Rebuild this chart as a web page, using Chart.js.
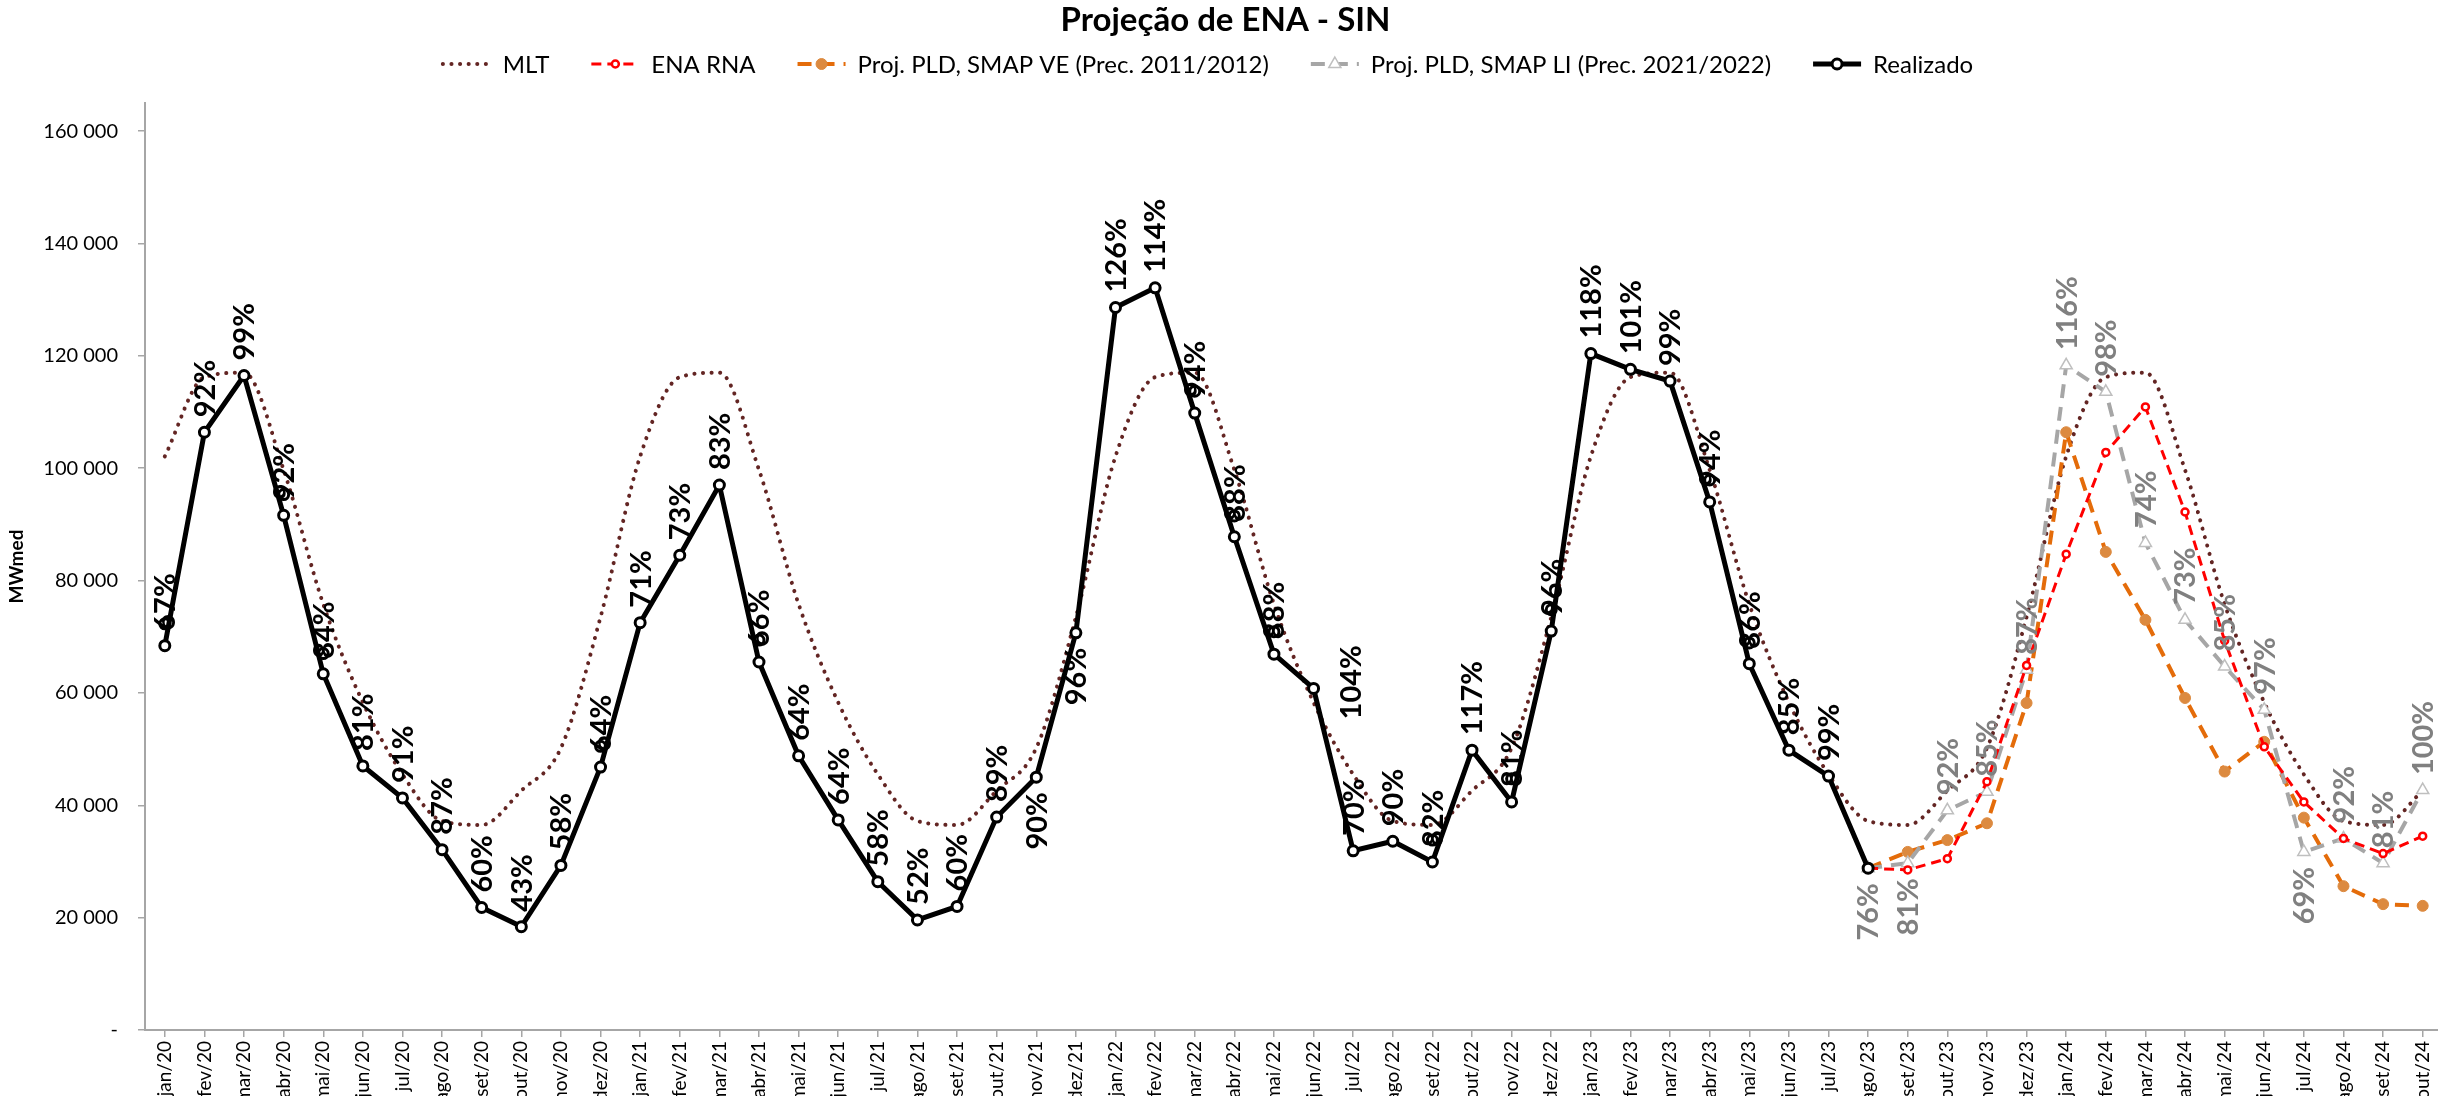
<!DOCTYPE html>
<html lang="pt-BR">
<head>
<meta charset="utf-8">
<title>Projeção de ENA - SIN</title>
<script src="https://cdn.jsdelivr.net/npm/chart.js@4.4.1/dist/chart.umd.min.js"></script>
<style>
    html, body { margin: 0; padding: 0; background: #fff; overflow: hidden; }
    #wrap { width: 2451px; height: 1096px; }
</style>
</head>
<body>
<div id="wrap"><canvas id="ena-chart" width="2451" height="1096"></canvas></div>
<script>
// meses do eixo x
var meses = ["jan/20", "fev/20", "mar/20", "abr/20", "mai/20", "jun/20", "jul/20", "ago/20", "set/20", "out/20", "nov/20", "dez/20",
    "jan/21", "fev/21", "mar/21", "abr/21", "mai/21", "jun/21", "jul/21", "ago/21", "set/21", "out/21", "nov/21", "dez/21",
    "jan/22", "fev/22", "mar/22", "abr/22", "mai/22", "jun/22", "jul/22", "ago/22", "set/22", "out/22", "nov/22", "dez/22",
    "jan/23", "fev/23", "mar/23", "abr/23", "mai/23", "jun/23", "jul/23", "ago/23", "set/23", "out/23", "nov/23", "dez/23",
    "jan/24", "fev/24", "mar/24", "abr/24", "mai/24", "jun/24", "jul/24", "ago/24", "set/24", "out/24"];

// eixo y (MWmed)
var ticksY = [0, 20000, 40000, 60000, 80000, 100000, 120000, 140000, 160000];

var mlt = [102100, 116200, 117000, 99700, 75800, 58300, 45500, 37200, 36500, 42600, 50200, 73500,
    102100, 116200, 117000, 99700, 75800, 58300, 45500, 37200, 36500, 42600, 50200, 73500,
    102100, 116200, 117000, 99700, 75800, 58300, 45500, 37200, 36500, 42600, 50200, 73500,
    102100, 116200, 117000, 99700, 75800, 58300, 45500, 37200, 36500, 42600, 50200, 73500,
    102100, 116200, 117000, 99700, 75800, 58300, 45500, 37200, 36500, 42600];

var realizado = [68400, 106400, 116500, 91600, 63400, 47000, 41300, 32100, 21800, 18400, 29300, 46800,
    72500, 84500, 97000, 65500, 48800, 37400, 26400, 19600, 22000, 37900, 45000, 70700,
    128600, 132100, 109800, 87800, 66900, 60800, 31900, 33600, 29900, 49800, 40600, 71000,
    120400, 117600, 115500, 94000, 65200, 49800, 45200, 28800,
    null, null, null, null, null, null, null, null, null, null, null, null, null, null];

// pontos duplicados do realizado (marcador extra no mesmo mes)
var realizadoExtra = [72300, null, null, 95300, 67000, null, null, null, null, null, null, 50500,
    null, null, null, 69400, null, null, null, null, null, null, null, null,
    null, null, 113700, 91500, 70900, null, null, null, 33800, null, 44700, 74800,
    null, null, null, 97900, 68900, null, null, null, null, null, null, null,
    null, null, null, null, null, null, null, null, null, null];

function aPartirDe(n, valores) {
    return new Array(n).fill(null).concat(valores);
}

var enaRna = aPartirDe(43, [28800, 28500, 30500, 44200, 64900, 84700, 102800, 110900, 92200, 69300, 50400, 40600, 34100, 31400, 34500]);
var smapVE = aPartirDe(43, [28800, 31700, 33800, 36800, 58200, 106400, 85100, 73000, 59100, 46000, 51300, 37800, 25600, 22400, 22100]);
var smapLI = aPartirDe(43, [28800, 29700, 39100, 42400, 64100, 118300, 113600, 86700, 73000, 64700, 57000, 31700, 34100, 29700, 42700]);

// % da MLT
var rotulosRealizado = ["67%", "92%", "99%", "92%", "84%", "81%", "91%", "87%", "60%", "43%", "58%", "64%",
    "71%", "73%", "83%", "66%", "64%", "64%", "58%", "52%", "60%", "89%", "90%", "96%",
    "126%", "114%", "94%", "88%", "88%", "104%", "70%", "90%", "82%", "117%", "81%", "96%",
    "118%", "101%", "99%", "94%", "86%", "85%", "99%"];
var rotulosLI = aPartirDe(43, ["76%", "81%", "92%", "85%", "87%", "116%", "98%", "74%", "73%", "85%", "97%", "69%", "92%", "81%", "100%"]);

Chart.defaults.font.family = "Lato, 'Liberation Sans', sans-serif";
Chart.defaults.color = "#000";

var rotulos = [
    { dataset: 4, textos: rotulosRealizado, cor: "#000", abaixo: [22, 23], desloca: { 29: [37, 46] } },
    { dataset: 3, textos: rotulosLI, cor: "#808080", abaixo: [43, 44, 54], desloca: {} }
];

var rotulosPlugin = {
    id: "rotulos",
    afterDatasetsDraw: function (chart) {
        var ctx = chart.ctx;
        ctx.save();
        ctx.font = "bold 29px Lato";
        ctx.textBaseline = "middle";
        rotulos.forEach(function (r) {
            var meta = chart.getDatasetMeta(r.dataset);
            r.textos.forEach(function (txt, i) {
                if (!txt) return;
                var p = meta.data[i];
                var d = r.desloca[i] || [0, 0];
                var abaixo = r.abaixo.indexOf(i) >= 0;
                ctx.save();
                ctx.translate(p.x + d[0], p.y + d[1]);
                ctx.rotate(-Math.PI / 2);
                ctx.fillStyle = r.cor;
                ctx.textAlign = abaixo ? "right" : "left";
                ctx.fillText(txt, abaixo ? -15 : 15, 1);
                ctx.restore();
            });
        });
        ctx.restore();
    }
};

// legenda no estilo do excel (linha + marcador)
var legendaPlugin = {
    id: "legendaExcel",
    afterDraw: function (chart) {
        var ctx = chart.ctx;
        var itens = [0, 1, 2, 3, 4];
        var amostra = 48, gapTexto = 12, gapItem = 42, y = 64;
        ctx.save();
        ctx.font = "24px Lato";
        var total = 0;
        itens.forEach(function (i, k) {
            total += amostra + gapTexto + ctx.measureText(chart.data.datasets[i].label).width + (k ? gapItem : 0);
        });
        var x = 1208 - total / 2;
        itens.forEach(function (i) {
            var ds = chart.data.datasets[i];
            ctx.save();
            ctx.strokeStyle = ds.borderColor;
            ctx.lineWidth = ds.borderWidth;
            ctx.lineCap = ds.borderCapStyle || "butt";
            ctx.setLineDash(ds.borderDash || []);
            ctx.beginPath();
            ctx.moveTo(x, y);
            ctx.lineTo(x + amostra, y);
            ctx.stroke();
            ctx.setLineDash([]);
            if (ds.pointRadius > 0) {
                ctx.fillStyle = ds.pointBackgroundColor;
                ctx.strokeStyle = ds.pointBorderColor;
                ctx.lineWidth = ds.pointBorderWidth;
                Chart.helpers.drawPoint(ctx, { pointStyle: ds.pointStyle, radius: ds.pointRadius, rotation: 0, borderWidth: ds.pointBorderWidth }, x + amostra / 2, y);
            }
            ctx.restore();
            ctx.fillStyle = "#000";
            ctx.textAlign = "left";
            ctx.textBaseline = "middle";
            ctx.fillText(ds.label, x + amostra + gapTexto, y + 1);
            x += amostra + gapTexto + ctx.measureText(ds.label).width + gapItem;
        });
        ctx.restore();
    }
};

new Chart(document.getElementById("ena-chart"), {
    type: "line",
    data: {
        labels: meses,
        datasets: [
            {
                label: "MLT",
                data: mlt,
                borderColor: "#632523",
                borderWidth: 4,
                borderDash: [0.1, 8.5],
                borderCapStyle: "round",
                cubicInterpolationMode: "monotone",
                pointRadius: 0,
                order: 5
            },
            {
                label: "ENA RNA",
                data: enaRna,
                borderColor: "#FF0000",
                borderWidth: 3,
                borderDash: [10, 6],
                pointStyle: "circle",
                pointRadius: 3.5,
                pointBorderWidth: 2.5,
                pointBorderColor: "#FF0000",
                pointBackgroundColor: "#FFFFFF",
                order: 2
            },
            {
                label: "Proj. PLD, SMAP VE (Prec. 2011/2012)",
                data: smapVE,
                borderColor: "#E46C0A",
                borderWidth: 4,
                borderDash: [14, 9],
                pointStyle: "circle",
                pointRadius: 5.5,
                pointBorderWidth: 1,
                pointBorderColor: "#DC8A40",
                pointBackgroundColor: "#DC8A40",
                order: 4
            },
            {
                label: "Proj. PLD, SMAP LI (Prec. 2021/2022)",
                data: smapLI,
                borderColor: "#A6A6A6",
                borderWidth: 4,
                borderDash: [14, 9],
                pointStyle: "triangle",
                pointRadius: 7,
                pointBorderWidth: 1.5,
                pointBorderColor: "#BFBFBF",
                pointBackgroundColor: "#FFFFFF",
                order: 3
            },
            {
                label: "Realizado",
                data: realizado,
                borderColor: "#000000",
                borderWidth: 5,
                pointStyle: "circle",
                pointRadius: 5,
                pointBorderWidth: 3,
                pointBorderColor: "#000000",
                pointBackgroundColor: "#FFFFFF",
                order: 0
            },
            {
                label: "Realizado (extra)",
                data: realizadoExtra,
                showLine: false,
                borderColor: "#000000",
                pointStyle: "circle",
                pointRadius: 5,
                pointBorderWidth: 3,
                pointBorderColor: "#000000",
                pointBackgroundColor: "#FFFFFF",
                order: 1
            }
        ]
    },
    options: {
        responsive: false,
        animation: false,
        devicePixelRatio: 1,
        layout: { padding: 0 },
        plugins: {
            legend: { display: false },
            tooltip: { enabled: false },
            title: {
                display: true,
                text: "Projeção de ENA - SIN",
                color: "#000",
                font: { size: 33, weight: "bold" },
                padding: { top: 1, bottom: 62.4 }
            }
        },
        scales: {
            x: {
                type: "category",
                offset: true,
                grid: { drawOnChartArea: false, tickLength: 7, color: "#A6A6A6", lineWidth: 1.5 },
                border: { color: "#A6A6A6", width: 2 },
                ticks: { minRotation: 90, maxRotation: 90, autoSkip: false, padding: 4, font: { size: 19 }, color: "#000" },
                afterFit: function (s) { s.height = 66; }
            },
            y: {
                min: 0,
                max: 165000,
                grid: { drawOnChartArea: false, tickLength: 7, color: "#A6A6A6", lineWidth: 1.5 },
                border: { color: "#A6A6A6", width: 2 },
                afterBuildTicks: function (s) {
                    s.ticks = ticksY.map(function (v) { return { value: v }; });
                },
                ticks: {
                    padding: 20,
                    font: { size: 20 },
                    color: "#000",
                    callback: function (v) {
                        if (v === 0) return "-";
                        return String(v).replace(/\B(?=(\d{3})+(?!\d))/g, " ");
                    }
                },
                title: { display: true, text: "MWmed", font: { size: 19, weight: "bold" }, color: "#000", padding: { top: 5, bottom: 0 } },
                afterFit: function (s) { s.width = 145; }
            }
        }
    },
    plugins: [rotulosPlugin, legendaPlugin]
});
</script>
</body>
</html>
